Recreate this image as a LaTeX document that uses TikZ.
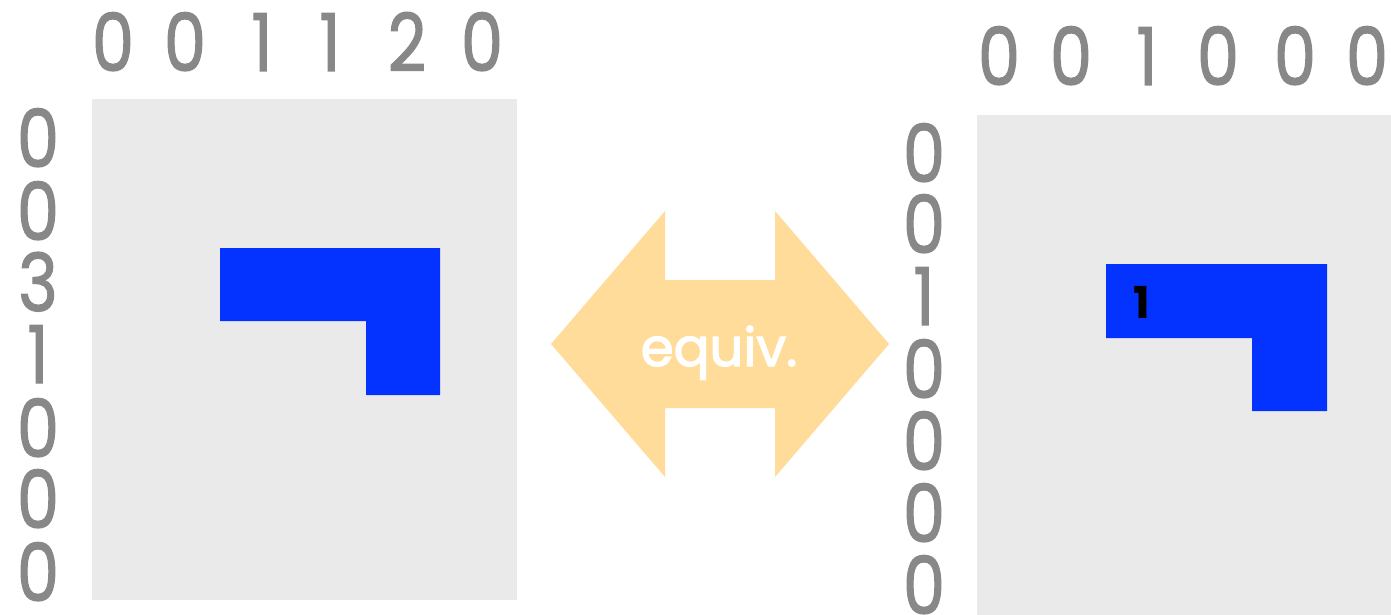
\documentclass[tikz,border=0pt]{standalone}
\usepackage{fontspec}
\setmainfont{Poppins}
\newfontfamily\digitfont[FakeBold=1.6]{Poppins}
\newfontfamily\wordfont[FakeBold=2.4]{Poppins}
\definecolor{labelgrey}{HTML}{888888}
\definecolor{panelgrey}{HTML}{EAEAEA}
\definecolor{shapeblue}{HTML}{0433FF}
\definecolor{arrowgold}{HTML}{FFDC99}
\tikzset{
  digit/.style={text=labelgrey, inner sep=0pt, anchor=base, xscale=0.84,
    font=\digitfont\fontsize{80}{80}\selectfont},
  panel/.style={fill=panelgrey},
  piece/.style={fill=shapeblue},
}
\begin{document}
\begin{tikzpicture}[x=1pt,y=-1pt]
\useasboundingbox (0,0) rectangle (1391,615);

% left board
\fill[panel] (92,99) rectangle (517,600);
\fill[piece] (220,248) -- (440,248) -- (440,395) -- (366,395) -- (366,321) -- (220,321) -- cycle;
\foreach \d/\x [count=\i] in {0/113,0/185,1/262,1/330,2/407,0/482}
  \node[digit] (ltop\i) at (\x,71) {\d};
\foreach \d/\y [count=\i] in {0/167,0/240,3/311,1/383,0/457,0/528,0/601}
  \node[digit] (lside\i) at (38,\y) {\d};

% right board
\fill[panel] (977,115) rectangle (1391,615);
\fill[piece] (1106,264) -- (1327,264) -- (1327,411) -- (1252,411) -- (1252,338) -- (1106,338) -- cycle;
\node[inner sep=0pt, anchor=base, font=\fontsize{44}{44}\selectfont\bfseries] (mark) at (1142,318) {1};
\foreach \d/\x [count=\i] in {0/999,0/1071,1/1147,0/1218,0/1295,0/1367}
  \node[digit] (rtop\i) at (\x,85) {\d};
\foreach \d/\y [count=\i] in {0/182,0/253,1/325,0/398,0/470,0/542,0/614}
  \node[digit] (rside\i) at (924,\y) {\d};

% double-headed equivalence arrow
\fill[arrowgold] (551,344) -- (665,211) -- (665,280) -- (775,280) -- (775,211)
  -- (889,344) -- (775,477) -- (775,408) -- (665,408) -- (665,477) -- cycle;
\node[text=white, inner sep=0pt, anchor=base, font=\wordfont\fontsize{53}{53}\selectfont] (equiv) at (719,366) {equiv.};
\end{tikzpicture}
\end{document}
